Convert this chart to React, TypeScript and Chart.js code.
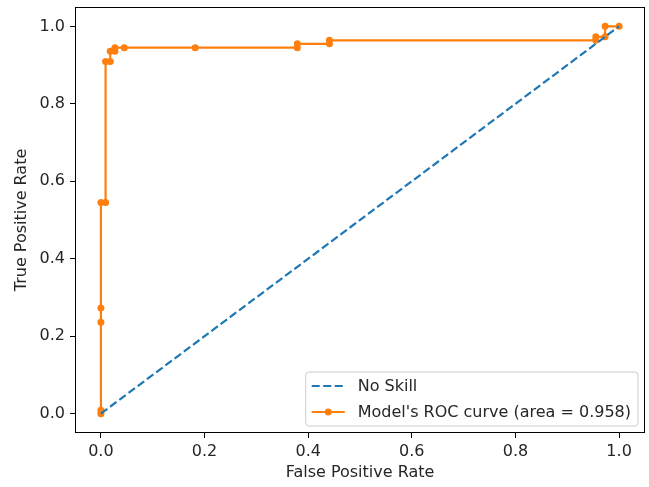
import React, { useEffect, useRef } from "react";
import { Chart, registerables } from "chart.js";

Chart.register(...registerables);

const NO_SKILL_FPR = [0, 1];
const NO_SKILL_TPR = [0, 1];
const MODEL_FPR = [0, 0, 0, 0, 0, 0.009, 0.009, 0.018, 0.018, 0.027, 0.027, 0.045, 0.182, 0.379, 0.379, 0.441, 0.441, 0.955, 0.955, 0.973, 0.973, 1.0];
const MODEL_TPR = [0, 0.009, 0.236, 0.273, 0.545, 0.545, 0.909, 0.909, 0.936, 0.936, 0.945, 0.945, 0.945, 0.945, 0.955, 0.955, 0.964, 0.964, 0.973, 0.973, 1.0, 1.0];
const TICK_VALUES = [0, 0.2, 0.4, 0.6, 0.8, 1.0];
const TICK_LABELS = ["0.0", "0.2", "0.4", "0.6", "0.8", "1.0"];
const SERIES_LABELS = ["No Skill", "Model's ROC curve (area = 0.958)"];
const X_TITLE = "False Positive Rate";
const Y_TITLE = "True Positive Rate";

const BLUE = "#1f77b4";
const ORANGE = "#ff7f0e";
const FONT = "DejaVu Sans";
const FS = 16;
const TEXT = "#262626";
const DASH = [8, 3.5];

const framePlugin = {
  id: "mplFrame",
  afterDatasetsDraw(chart: any) {
    const { ctx, chartArea: a } = chart;
    ctx.save();
    ctx.strokeStyle = "#000";
    ctx.lineWidth = 1;
    ctx.strokeRect(Math.round(a.left) + 0.5, Math.round(a.top) + 0.5, Math.round(a.right - a.left) - 1, Math.round(a.bottom - a.top) - 1);
    ctx.restore();
  },
  afterDraw(chart: any) {
    const { ctx, chartArea: a } = chart;
    const ds = chart.data.datasets;
    ctx.save();
    ctx.font = `${FS}px "${FONT}"`;
    let tw = 0;
    ds.forEach((d: any) => { tw = Math.max(tw, ctx.measureText(d.label).width); });
    const right = a.right - 7;
    const bottom = a.bottom - 7;
    const rowH = 26;
    const padL = 6, handle = 33, gap = 13, padR = 7;
    const w = padL + handle + gap + tw + padR;
    const h = rowH * ds.length + 2;
    const left = right - w;
    const top = bottom - h;
    const r = 3;
    ctx.beginPath();
    ctx.moveTo(left + r, top);
    ctx.lineTo(right - r, top);
    ctx.quadraticCurveTo(right, top, right, top + r);
    ctx.lineTo(right, bottom - r);
    ctx.quadraticCurveTo(right, bottom, right - r, bottom);
    ctx.lineTo(left + r, bottom);
    ctx.quadraticCurveTo(left, bottom, left, bottom - r);
    ctx.lineTo(left, top + r);
    ctx.quadraticCurveTo(left, top, left + r, top);
    ctx.closePath();
    ctx.fillStyle = "rgba(255,255,255,0.8)";
    ctx.fill();
    ctx.strokeStyle = "#cccccc";
    ctx.lineWidth = 1;
    ctx.stroke();
    ds.forEach((d: any, i: number) => {
      const cy = top + 14 + i * rowH;
      const x0 = left + padL;
      const x1 = x0 + handle;
      ctx.beginPath();
      ctx.setLineDash(d.borderDash || []);
      ctx.strokeStyle = d.borderColor;
      ctx.lineWidth = d.borderWidth;
      ctx.moveTo(x0, cy);
      ctx.lineTo(x1, cy);
      ctx.stroke();
      ctx.setLineDash([]);
      if (d.pointRadius > 0) {
        ctx.beginPath();
        ctx.fillStyle = d.pointBackgroundColor;
        ctx.arc((x0 + x1) / 2, cy, d.pointRadius, 0, Math.PI * 2);
        ctx.fill();
      }
      ctx.fillStyle = TEXT;
      ctx.textAlign = "left";
      ctx.textBaseline = "middle";
      ctx.fillText(d.label, x1 + gap, cy + 1);
    });
    ctx.restore();
  },
};

export default function App() {
  const ref = useRef<HTMLCanvasElement | null>(null);
  useEffect(() => {
    document.body.style.margin = "0";
    if (!ref.current) return;
    const noSkill = NO_SKILL_FPR.map((x, i) => ({ x, y: NO_SKILL_TPR[i] }));
    const model = MODEL_FPR.map((x, i) => ({ x, y: MODEL_TPR[i] }));
    const tickCb = (v: any) => {
      const idx = TICK_VALUES.findIndex((t) => Math.abs(t - v) < 1e-6);
      return idx >= 0 ? TICK_LABELS[idx] : "";
    };
    const setTicks = (scale: any) => {
      scale.ticks = TICK_VALUES.map((value) => ({ value }));
    };
    const common = {
      type: "linear" as const,
      min: -0.05,
      max: 1.05,
      afterBuildTicks: setTicks,
      border: { display: false },
      grid: {
        display: true,
        drawOnChartArea: false,
        drawTicks: true,
        tickLength: 5,
        tickColor: "#000",
        tickWidth: 1,
      },
    };
    const chart = new Chart(ref.current, {
      type: "scatter",
      data: {
        datasets: [
          {
            label: SERIES_LABELS[0],
            data: noSkill,
            showLine: true,
            borderColor: BLUE,
            backgroundColor: BLUE,
            borderWidth: 2.2,
            borderDash: DASH,
            pointRadius: 0,
            pointBackgroundColor: BLUE,
          },
          {
            label: SERIES_LABELS[1],
            data: model,
            showLine: true,
            borderColor: ORANGE,
            backgroundColor: ORANGE,
            borderWidth: 2.2,
            pointRadius: 3.5,
            pointBorderWidth: 0,
            pointBackgroundColor: ORANGE,
            pointBorderColor: ORANGE,
          },
        ],
      },
      options: {
        responsive: false,
        animation: false,
        events: [],
        layout: { padding: { top: 7, right: 4, bottom: 0, left: 0 } },
        plugins: { legend: { display: false }, tooltip: { enabled: false } },
        scales: {
          x: {
            ...common,
            position: "bottom",
            afterFit: (s: any) => { s.height = 54; s.paddingLeft = 0; s.paddingRight = 0; },
            ticks: { callback: tickCb, color: TEXT, font: { family: FONT, size: FS }, padding: 4, maxRotation: 0, minRotation: 0, autoSkip: false },
            title: { display: true, text: X_TITLE, color: TEXT, font: { family: FONT, size: FS }, padding: { top: 0, bottom: 5 } },
          },
          y: {
            ...common,
            position: "left",
            afterFit: (s: any) => { s.width = 75; s.paddingTop = 0; s.paddingBottom = 0; },
            ticks: { callback: tickCb, color: TEXT, font: { family: FONT, size: FS }, padding: 5, autoSkip: false },
            title: { display: true, text: Y_TITLE, color: TEXT, font: { family: FONT, size: FS }, padding: { top: 12, bottom: 0 } },
          },
        },
      },
      plugins: [framePlugin],
    } as any);
    return () => chart.destroy();
  }, []);
  return (
    <div style={{ width: 649, height: 487 }}>
      <canvas ref={ref} width={649} height={487} />
    </div>
  );
}
